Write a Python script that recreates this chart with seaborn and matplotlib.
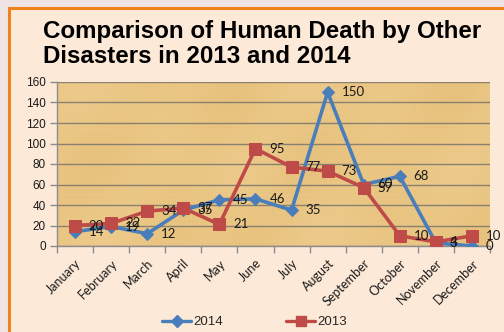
import numpy as np
import pandas as pd
import matplotlib
matplotlib.use("Agg")
import matplotlib.pyplot as plt
import seaborn as sns
from matplotlib.lines import Line2D
from matplotlib.patches import Rectangle

months = ["January", "February", "March", "April", "May", "June", "July",
          "August", "September", "October", "November", "December"]
deaths_2014 = [14, 19, 12, 35, 45, 46, 35, 150, 60, 68, 3, 0]
deaths_2013 = [20, 22, 34, 37, 21, 95, 77, 73, 57, 10, 4, 10]
y_ticks = [0, 20, 40, 60, 80, 100, 120, 140, 160]

BLUE = "#4a7ebb"
RED = "#be4b48"

sns.set_theme(style="white")
plt.rcParams["font.family"] = ["Liberation Sans", "DejaVu Sans"]

fig = plt.figure(figsize=(5.04, 3.32), dpi=100)
fig.patch.set_facecolor("#efe3e3")
# chart frame with orange border
fig.patches.append(Rectangle((9 / 504, -0.05), 1.2, 1 - 8 / 332 + 0.05,
                             transform=fig.transFigure, facecolor="#fde9d8",
                             edgecolor="#f0821e", lw=2.2, zorder=-5))

ax = fig.add_axes([57 / 504, 1 - 246 / 332, (490 - 57) / 504, (246 - 82) / 332])
ax.set_zorder(1)

# soft papyrus-like background: fine fibres plus broad light/dark patches
h, w = 164, 433
yy, xx = np.mgrid[0:h, 0:w]
fibres = (np.sin(xx * 1.7) * np.sin(xx * 0.37 + 1.3)
          + 0.8 * np.sin(yy * 1.3) * np.sin(yy * 0.23 + 0.7))
patches_ = (np.sin(xx / 37.0 + 0.4) * np.sin(yy / 23.0 + 1.1)
            + 0.6 * np.sin(xx / 17.0 + yy / 31.0))
pattern = 0.35 * fibres / np.abs(fibres).max() + 0.65 * patches_ / np.abs(patches_).max()
base = np.array([0.918, 0.776, 0.518])
tex = base[None, None, :] + pattern[..., None] * np.array([0.018, 0.025, 0.04])
tex = np.clip(tex, 0, 1)
ax.imshow(tex, extent=[-0.5, 11.5, 0, 160], aspect="auto", zorder=0,
          interpolation="bilinear")

df = pd.DataFrame({"month": np.arange(12), "2014": deaths_2014, "2013": deaths_2013})

sns.lineplot(data=df, x="month", y="2014", ax=ax, color=BLUE, lw=2.6,
             marker="D", markersize=6.5, markeredgecolor=BLUE, zorder=3)
sns.lineplot(data=df, x="month", y="2013", ax=ax, color=RED, lw=2.6,
             marker="s", markersize=8, markeredgecolor=RED, zorder=4)

label_font = ["Lato", "DejaVu Sans"]
for series in (deaths_2014, deaths_2013):
    for i, v in enumerate(series):
        ax.annotate(str(v), (i, v), xytext=(10, 0), textcoords="offset points",
                    ha="left", va="center", fontsize=9.5, color="#1a1a1a",
                    family=label_font, zorder=5, annotation_clip=False)

ax.set_xlim(-0.5, 11.5)
ax.set_ylim(0, 160)
ax.set_yticks(y_ticks)
ax.set_yticklabels([str(t) for t in y_ticks], fontsize=8.5, color="#1a1a1a")
ax.set_xticks(np.arange(12))
ax.set_xticklabels(months, rotation=45, ha="right", rotation_mode="anchor",
                   fontsize=9, color="#1a1a1a", family=label_font)
ax.tick_params(axis="x", which="major", length=0, pad=8)
ax.set_xticks(np.arange(-0.5, 12, 1), minor=True)
ax.tick_params(axis="x", which="minor", length=5, color="#8c8c8c", width=1,
               bottom=True)
ax.tick_params(axis="y", length=5, color="#8c8c8c", width=1, left=True, pad=3)
ax.set_xlabel("")
ax.set_ylabel("")
ax.grid(axis="y", color="#8a8070", lw=1.0)
ax.set_axisbelow(True)
for s in ("top", "right"):
    ax.spines[s].set_visible(False)
for s in ("left", "bottom"):
    ax.spines[s].set_color("#8c8c8c")
    ax.spines[s].set_linewidth(1.0)

fig.text(43 / 504, 1 - 20 / 332, "Comparison of Human Death by Other\nDisasters in 2013 and 2014",
         ha="left", va="top", fontsize=17.4, fontweight="bold", color="black",
         linespacing=1.12)

handles = [Line2D([], [], color=BLUE, lw=2.4, marker="D", markersize=6),
           Line2D([], [], color=RED, lw=2.4, marker="s", markersize=7.5)]
fig.legend(handles, ["2014", "2013"], loc="center", bbox_to_anchor=(0.505, 1 - 322 / 332),
           ncol=2, frameon=False, fontsize=9.5, handlelength=2.2, handletextpad=0.15,
           columnspacing=4.8)

fig.savefig("out.png", dpi=100, facecolor=fig.get_facecolor())
